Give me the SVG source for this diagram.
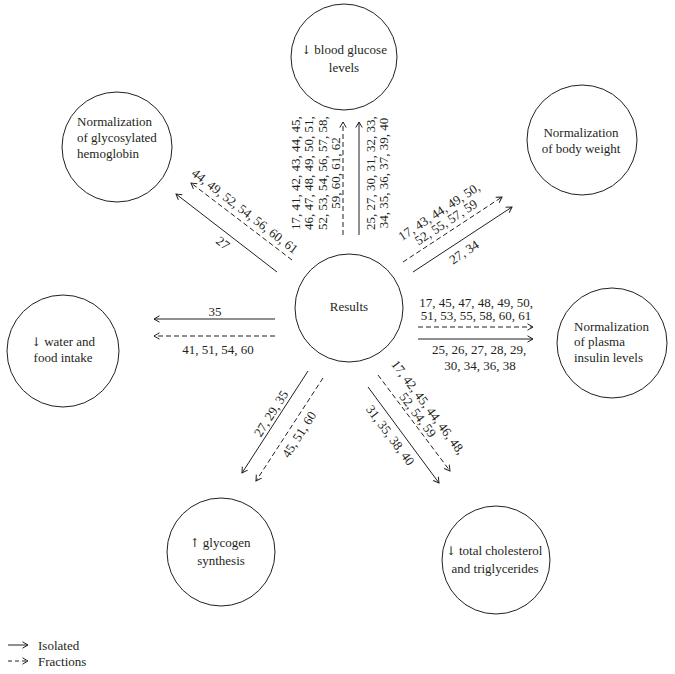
<svg xmlns="http://www.w3.org/2000/svg" width="675" height="674" viewBox="0 0 675 674">
<defs>
<style>
.node circle{fill:none;stroke:#231f20;stroke-width:1}
text{font-family:"Liberation Serif","Times New Roman",serif;font-size:13px;fill:#231f20}
.sym{font-family:"DejaVu Serif","DejaVu Sans",serif;font-size:12px}
.c{text-anchor:middle}
.s{stroke:#231f20;stroke-width:1;fill:none;marker-end:url(#ah)}
.d{stroke:#231f20;stroke-width:1;fill:none;stroke-dasharray:5 3;marker-end:url(#ah)}
</style>
<marker id="ah" markerWidth="9" markerHeight="9" refX="6" refY="4" orient="auto" markerUnits="userSpaceOnUse">
<path d="M0.5,0.8 L6,4 L0.5,7.2" fill="none" stroke="#231f20" stroke-width="1"/>
</marker>
</defs>
<rect width="675" height="674" fill="#fff"/>
<g font-family="Liberation Serif, Times New Roman, serif">
<g id="n-glucose" class="node">
<circle cx="344" cy="57" r="53"/>
<text class="c" x="344" y="54"><tspan class="sym">↓</tspan> blood glucose</text>
<text class="c" x="344" y="72">levels</text>
</g>
<g id="n-hemoglobin" class="node">
<circle cx="117" cy="147" r="55"/>
<text x="77" y="126">Normalization</text>
<text x="77" y="142">of glycosylated</text>
<text x="77" y="158">hemoglobin</text>
</g>
<g id="n-weight" class="node">
<circle cx="582" cy="140" r="55"/>
<text class="c" x="581" y="137">Normalization</text>
<text class="c" x="581" y="153">of body weight</text>
</g>
<g id="n-results" class="node">
<circle cx="349" cy="308" r="54"/>
<text class="c" x="349" y="311">Results</text>
</g>
<g id="n-insulin" class="node">
<circle cx="612" cy="343" r="55"/>
<text x="574" y="331">Normalization</text>
<text x="574" y="346">of plasma</text>
<text x="574" y="362">insulin levels</text>
</g>
<g id="n-water" class="node">
<circle cx="63" cy="351" r="56"/>
<text class="c" x="63" y="346"><tspan class="sym">↓</tspan> water and</text>
<text class="c" x="63" y="362">food intake</text>
</g>
<g id="n-glycogen" class="node">
<circle cx="221" cy="552" r="54"/>
<text class="c" x="220" y="547"><tspan class="sym">↑</tspan> glycogen</text>
<text class="c" x="221" y="565">synthesis</text>
</g>
<g id="n-cholesterol" class="node">
<circle cx="496" cy="560" r="54"/>
<text class="c" x="494" y="555"><tspan class="sym">↓</tspan> total cholesterol</text>
<text class="c" x="495" y="573">and triglycerides</text>
</g>

<g id="connectors">
<line class="d" x1="343" y1="235" x2="343" y2="122"/>
<line class="s" x1="359" y1="235" x2="359" y2="122"/>
<text class="c" x="295" y="177.5" transform="rotate(-90 295 173)">17, 41, 42, 43, 44, 45,</text>
<text class="c" x="308.5" y="177.5" transform="rotate(-90 308.5 173)">46, 47, 48, 49, 50, 51,</text>
<text class="c" x="322" y="177.5" transform="rotate(-90 322 173)">52, 53, 54, 56, 57, 58,</text>
<text class="c" x="335.5" y="177.5" transform="rotate(-90 335.5 173)">59, 60, 61, 62</text>
<text class="c" x="370" y="177.5" transform="rotate(-90 370 173)">25, 27, 30, 31, 32, 33,</text>
<text class="c" x="383.5" y="177.5" transform="rotate(-90 383.5 173)">34, 35, 36, 37, 39, 40</text>

<line class="d" x1="292" y1="260" x2="191" y2="183"/>
<line class="s" x1="277" y1="272" x2="176" y2="194"/>
<text class="c" x="245" y="215.5" transform="rotate(37.7 245 211)">44, 49, 52, 54, 56, 60, 61</text>
<text class="c" x="223" y="247.5" transform="rotate(37.7 223 243)">27</text>

<line class="d" x1="403" y1="262" x2="502" y2="197"/>
<line class="s" x1="413" y1="272" x2="512" y2="207"/>
<text class="c" x="439" y="216" transform="rotate(-33.3 439 211.5)">17, 43, 44, 49, 50,</text>
<text class="c" x="446" y="226.5" transform="rotate(-33.3 446 222)">52, 55, 57, 59</text>
<text class="c" x="464" y="256.5" transform="rotate(-33.3 464 252)">27, 34</text>

<line class="d" x1="418" y1="327" x2="533" y2="327"/>
<line class="s" x1="418" y1="339" x2="533" y2="339"/>
<text class="c" x="476" y="306.5">17, 45, 47, 48, 49, 50,</text>
<text class="c" x="476" y="320">51, 53, 55, 58, 60, 61</text>
<text class="c" x="479" y="353.5">25, 26, 27, 28, 29,</text>
<text class="c" x="480" y="369.5">30, 34, 36, 38</text>

<line class="s" x1="275" y1="319" x2="154" y2="319"/>
<line class="d" x1="275" y1="336" x2="154" y2="336"/>
<text class="c" x="215" y="316">35</text>
<text class="c" x="218" y="353.5">41, 51, 54, 60</text>

<line class="s" x1="308" y1="371" x2="242" y2="473"/>
<line class="d" x1="323" y1="378" x2="256" y2="481"/>
<text class="c" x="271" y="418" transform="rotate(-57.1 271 413.5)">27, 29, 35</text>
<text class="c" x="299" y="439" transform="rotate(-57.1 299 434.5)">45, 51, 60</text>

<line class="d" x1="378" y1="375" x2="450" y2="471"/>
<line class="s" x1="368" y1="387" x2="439" y2="483"/>
<text class="c" x="428.4" y="411.7" transform="rotate(53.3 428.4 407.2)">17, 42, 45, 44, 46, 48,</text>
<text class="c" x="418" y="419.5" transform="rotate(53.3 418 415)">52, 54, 59</text>
<text class="c" x="390.4" y="439.7" transform="rotate(53.3 390.4 435.2)">31, 35, 38, 40</text>
</g>

<g id="legend">
<line class="s" x1="8" y1="645" x2="28" y2="645"/>
<text x="38" y="649.5">Isolated</text>
<line class="d" x1="8" y1="661" x2="28" y2="661" style="stroke-dasharray:4 3"/>
<text x="38" y="665.5">Fractions</text>
</g>
</g>
</svg>
